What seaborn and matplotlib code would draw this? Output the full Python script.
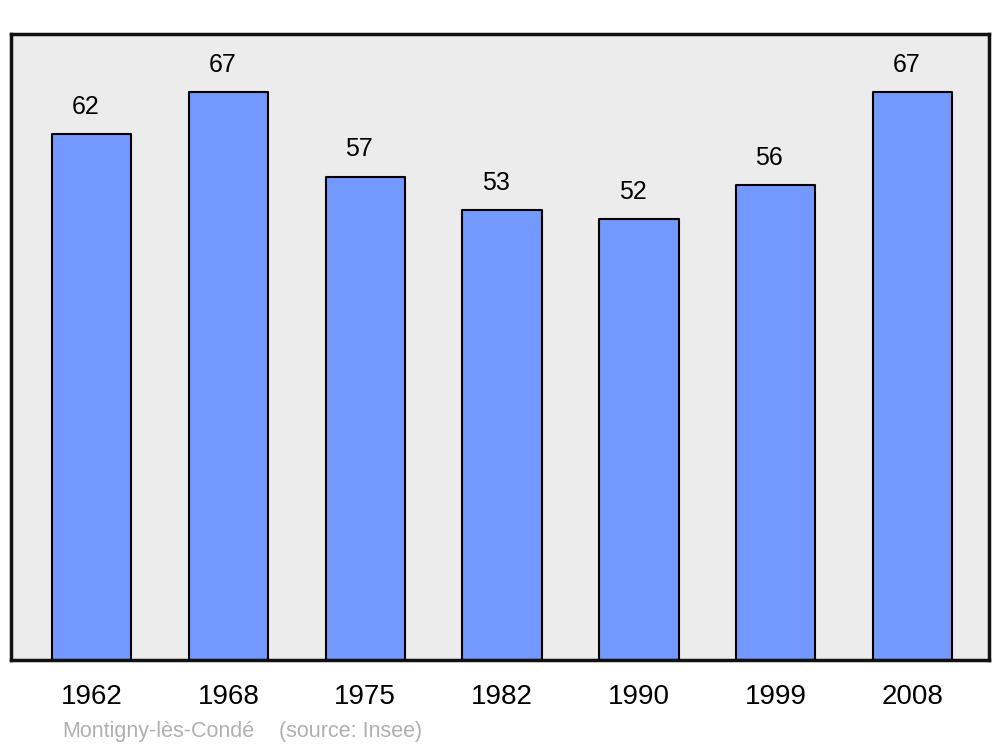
import seaborn as sns
import matplotlib.pyplot as plt
import pandas as pd

years = ['1962', '1968', '1975', '1982', '1990', '1999', '2008']
population = [62, 67, 57, 53, 52, 56, 67]
town = 'Montigny-lès-Condé'
source = '(source: Insee)'

df = pd.DataFrame({'year': years, 'pop': population})

sns.set_style('white')
plt.rcParams['font.family'] = ['Liberation Sans', 'DejaVu Sans']
plt.rcParams['text.color'] = 'black'
plt.rcParams['xtick.color'] = 'black'

fig = plt.figure(figsize=(10, 7.47), dpi=100)
ax = fig.add_axes([11 / 1000, 1 - 660 / 747, 978 / 1000, 626 / 747])
ax.set_facecolor('#ececec')

sns.barplot(data=df, x='year', y='pop', color='#7399ff', saturation=1,
            edgecolor='black', linewidth=1.5, width=0.58, ax=ax)

for p in ax.patches:
    p.set_joinstyle('round')

for i, v in enumerate(population):
    ax.annotate(str(v), (i, v), xytext=(-4.5, 14.5), textcoords='offset points',
                ha='center', va='baseline', fontsize=18, color='black')

ax.set_xlim(-0.59, 6.56)
ax.set_ylim(0, 73.8)
ax.set_xlabel('')
ax.set_ylabel('')
ax.set_yticks([])
ax.tick_params(axis='x', length=0, pad=17, labelsize=20, labelcolor='black')
for s in ax.spines.values():
    s.set_visible(True)
    s.set_linewidth(2.5)
    s.set_color('#111111')

fig.text(62 / 1000, 1 - 731 / 747, town, fontsize=15.5,
         color='#b0b0b0', ha='left', va='center')
fig.text(279 / 1000, 1 - 731 / 747, source, fontsize=15.5,
         color='#b0b0b0', ha='left', va='center')

fig.savefig('out.png', dpi=100)
